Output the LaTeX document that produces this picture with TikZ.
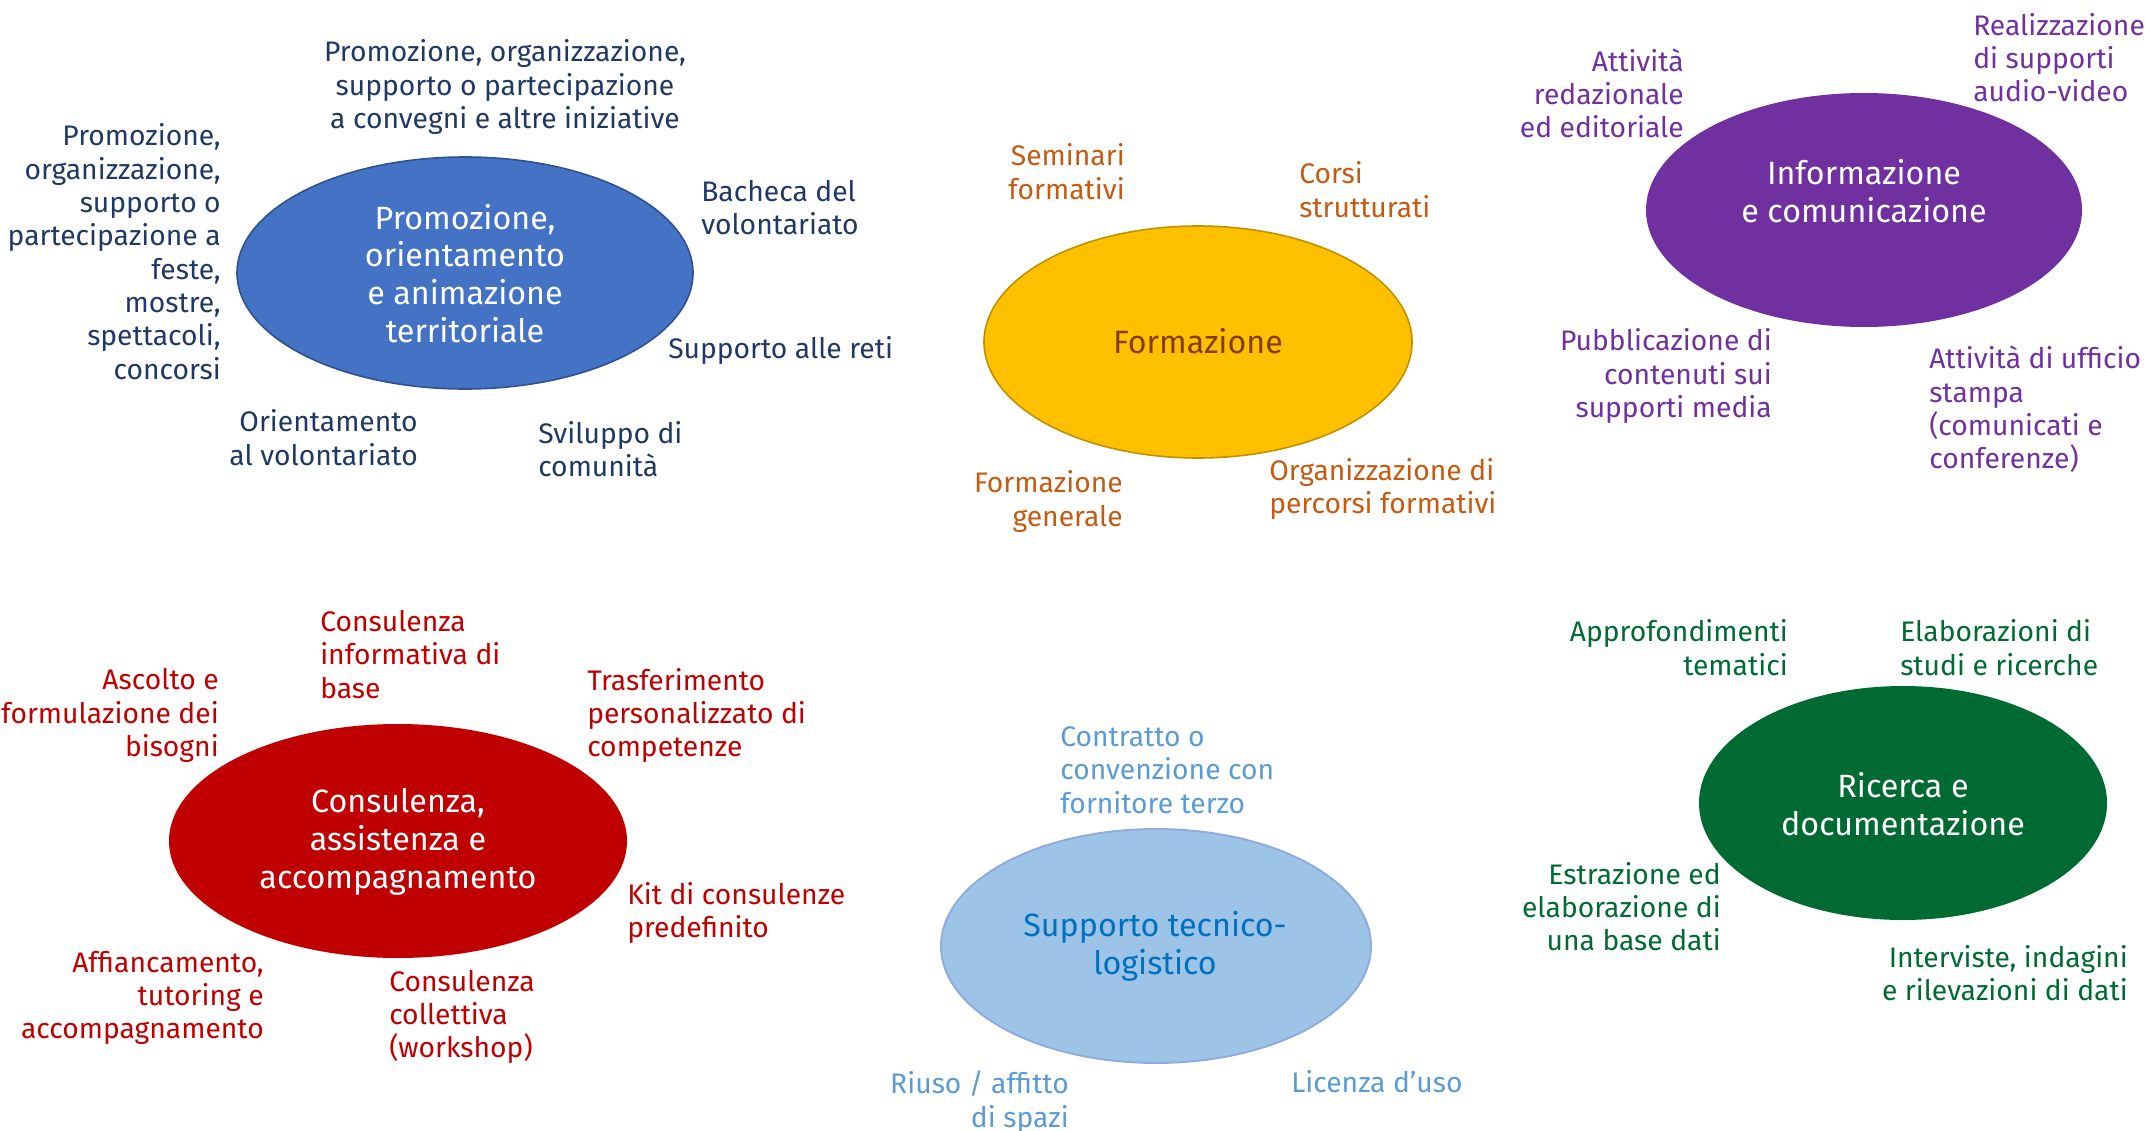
\documentclass[tikz,border=0pt]{standalone}
\usepackage{fontspec}
\setmainfont{Fira Sans}
\usetikzlibrary{shapes.geometric}
\definecolor{navy}{HTML}{203864}
\definecolor{blueF}{HTML}{4472C4}
\definecolor{blueB}{HTML}{2F528F}
\definecolor{goldF}{HTML}{FFC000}
\definecolor{goldB}{HTML}{BF9000}
\definecolor{brownT}{HTML}{843C0C}
\definecolor{orangeT}{HTML}{C55A11}
\definecolor{purpleF}{HTML}{7030A0}
\definecolor{redF}{HTML}{C00000}
\definecolor{lblueF}{HTML}{9DC3E6}
\definecolor{lblueB}{HTML}{8FAADC}
\definecolor{lblueT}{HTML}{0070C0}
\definecolor{lblueL}{HTML}{5B9BD5}
\definecolor{greenF}{HTML}{006A33}
\tikzset{
  blob/.style={ellipse, inner sep=0pt, outer sep=0pt},
  ttl/.style={font=\fontsize{24.2}{28.4}\selectfont, align=center, inner sep=0pt},
  lab/.style={font=\fontsize{21.2}{25}\selectfont, inner sep=0pt},
  labL/.style={lab, align=left, anchor=west},
  labR/.style={lab, align=right, anchor=east},
  labC/.style={lab, align=center, anchor=center},
}
\begin{document}
\begin{tikzpicture}[x=0.75pt,y=-0.75pt]
\useasboundingbox (0,0) rectangle (2145,1131);
% ---------- Promozione ----------
\node[blob, fill=blueF, draw=blueB, line width=1.2pt, minimum width=342pt, minimum height=174pt] (promo) at (465,273) {};
\node[ttl, text=white] (promoT) at (465,273.5) {Promozione,\\orientamento\\e animazione\\territoriale};
\begin{scope}[every node/.append style={text=navy}]
\node[labC] (p1) at (505,87) {Promozione, organizzazione,\\supporto o partecipazione\\a convegni e altre iniziative};
\node[labR] (p2) at (221,251.5) {Promozione,\\organizzazione,\\supporto o\\partecipazione a\\feste,\\mostre,\\spettacoli,\\concorsi};
\node[labL] (p3) at (701,207.5) {Bacheca del\\volontariato};
\node[labL] (p4) at (668,350) {Supporto alle reti};
\node[labR] (p5) at (418,437.5) {Orientamento\\al volontariato};
\node[labL] (p6) at (538,449) {Sviluppo di\\comunità};
\end{scope}
% ---------- Formazione ----------
\node[blob, fill=goldF, draw=goldB, line width=1.2pt, minimum width=321pt, minimum height=174pt] (form) at (1198,342) {};
\node[ttl, text=brownT] (formT) at (1198,341) {Formazione};
\begin{scope}[every node/.append style={text=orangeT}]
\node[labR] (f1) at (1125,171.5) {Seminari\\formativi};
\node[labL] (f2) at (1299,189.5) {Corsi\\strutturati};
\node[labR] (f3) at (1123,501.5) {Formazione\\generale};
\node[labL] (f4) at (1269,489) {Organizzazione di\\percorsi formativi};
\end{scope}
% ---------- Informazione ----------
\node[blob, fill=purpleF, minimum width=327pt, minimum height=175.5pt] (info) at (1864,210) {};
\node[ttl, text=white] (infoT) at (1864,191) {Informazione\\e comunicazione};
\begin{scope}[every node/.append style={text=purpleF}]
\node[labR] (i1) at (1684,93.5) {Attività\\redazionale\\ed editoriale};
\node[labL] (i2) at (1973,57.5) {Realizzazione\\di supporti\\audio-video};
\node[labR] (i3) at (1772,376) {Pubblicazione di\\contenuti sui\\supporti media};
\node[labL] (i4) at (1929,409.5) {Attività di ufficio\\stampa\\(comunicati e\\conferenze)};
\end{scope}
% ---------- Consulenza ----------
\node[blob, fill=redF, minimum width=343.5pt, minimum height=175.5pt] (cons) at (398,841) {};
\node[ttl, text=white] (consT) at (398,842) {Consulenza,\\assistenza e\\accompagnamento};
\begin{scope}[every node/.append style={text=redF}]
\node[labL] (c1) at (320,654.5) {Consulenza\\informativa di\\base};
\node[labR] (c2) at (219,715.7) {Ascolto e\\riformulazione dei\\bisogni};
\node[labL] (c3) at (587,715.5) {Trasferimento\\personalizzato di\\competenze};
\node[labL] (c4) at (627,913) {Kit di consulenze\\predefinito};
\node[labR] (c5) at (264,998) {Affiancamento,\\tutoring e\\accompagnamento};
\node[labL] (c6) at (389,1017) {Consulenza\\collettiva\\(workshop)};
\end{scope}
% ---------- Supporto ----------
\node[blob, fill=lblueF, draw=lblueB, line width=1.4pt, minimum width=322.5pt, minimum height=175.5pt] (supp) at (1156,946) {};
\node[ttl, text=lblueT] (suppT) at (1155,946.5) {Supporto tecnico-\\logistico};
\begin{scope}[every node/.append style={text=lblueL}]
\node[labL] (s1) at (1060,770) {Contratto o\\convenzione con\\fornitore terzo};
\node[labR] (s2) at (1069,1102) {Riuso / affitto\\di spazi};
\node[labL] (s3) at (1291,1082) {Licenza d’uso};
\end{scope}
% ---------- Ricerca ----------
\node[blob, fill=greenF, minimum width=306pt, minimum height=175.5pt] (ric) at (1903,803) {};
\node[ttl, text=white] (ricT) at (1903,804) {Ricerca e\\documentazione};
\begin{scope}[every node/.append style={text=greenF}]
\node[labR] (r1) at (1788,647.5) {Approfondimenti\\tematici};
\node[labL] (r2) at (1900,647.5) {Elaborazioni di\\studi e ricerche};
\node[labR] (r3) at (1721,906.5) {Estrazione ed\\elaborazione di\\una base dati};
\node[labR] (r4) at (2128,973) {Interviste, indagini\\e rilevazioni di dati};
\end{scope}
\end{tikzpicture}
\end{document}
